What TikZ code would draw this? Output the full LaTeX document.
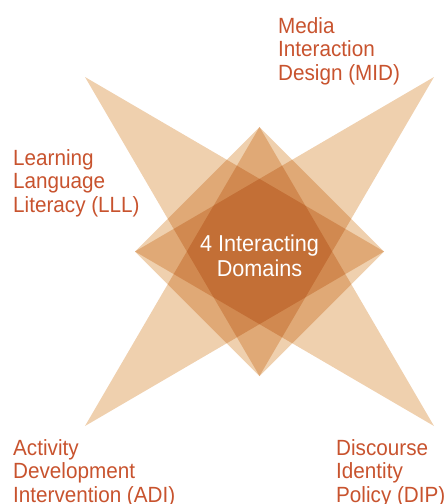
\documentclass[tikz,border=0pt]{standalone}
\usepackage{fontspec}
\setmainfont{Liberation Sans}[FakeStretch=0.94]
\definecolor{armfill}{RGB}{239,208,174}
\definecolor{labelred}{RGB}{200,83,46}
\begin{document}
\begin{tikzpicture}[x=1pt,y=-1pt,
  arm/.style={fill=armfill,draw=none},
  lbl/.style={text=labelred,font=\fontsize{22}{23.5}\selectfont,align=left,anchor=base west,inner sep=0pt},
  ctr/.style={text=white,font=\fontsize{23}{24.3}\selectfont,align=center,anchor=base,inner sep=0pt}]
\useasboundingbox (0,0) rectangle (445,504);
\coordinate (TL) at (85,77);
\coordinate (TR) at (434,77);
\coordinate (BL) at (85,426);
\coordinate (BR) at (434,426);
\coordinate (T) at (259.5,127);
\coordinate (B) at (259.5,376);
\coordinate (L) at (135,251.5);
\coordinate (R) at (384,251.5);
\begin{scope}[blend group=multiply]
\fill[arm] (TL) -- (R) -- (B) -- cycle;
\fill[arm] (TR) -- (L) -- (B) -- cycle;
\fill[arm] (BL) -- (T) -- (R) -- cycle;
\fill[arm] (BR) -- (T) -- (L) -- cycle;
\end{scope}
\node[lbl] (mid) at (278,80) {Media\\Interaction\\Design (MID)};
\node[lbl] (lll) at (13,212) {Learning\\Language\\Literacy (LLL)};
\node[lbl] (adi) at (13,502) {Activity\\Development\\Intervention (ADI)};
\node[lbl] (dip) at (336,502) {Discourse\\Identity\\Policy (DIP)};
\node[ctr] (core) at (259.5,276) {4 Interacting\\Domains};
\end{tikzpicture}
\end{document}
